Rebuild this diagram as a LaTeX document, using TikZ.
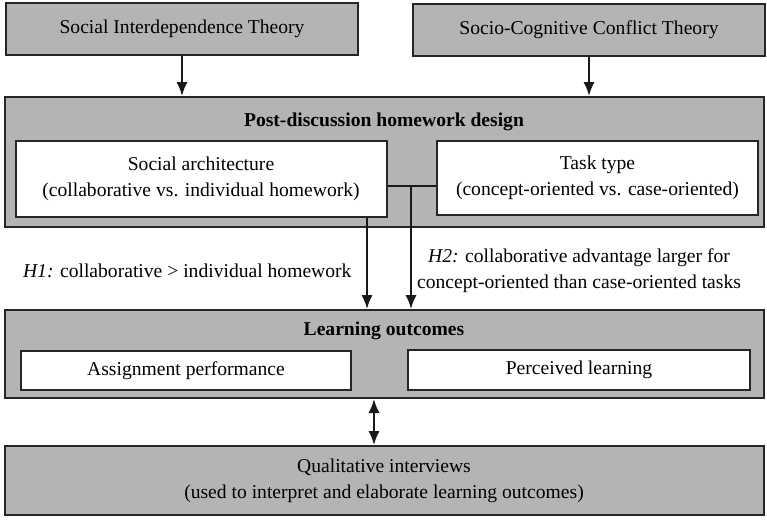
\documentclass[tikz,border=0pt]{standalone}
\usepackage{fontspec}
\setmainfont{Liberation Serif}
\usetikzlibrary{arrows.meta}
\newcommand{\fsz}{\fontsize{9.8}{13}\selectfont}

\begin{document}
\begin{tikzpicture}[
  x=0.5pt, y=-0.5pt,
  graybox/.style={draw=black!85, line width=1pt, fill=boxFill, inner sep=0pt, align=center, font=\fsz},
  whitebox/.style={draw=black!85, line width=1pt, fill=white, inner sep=0pt, align=center, font=\fsz},
  ttllbl/.style={font=\fsz\bfseries, align=center},
  hyplbl/.style={font=\fsz, align=center},
  link/.style={line width=1pt, draw=black!90},
  arr/.style={link, -{Latex[length=7pt, width=5.6pt]}},
  arrboth/.style={link, {Latex[length=7pt, width=5.6pt]}-{Latex[length=7pt, width=5.6pt]}},
]

%% ── Colours ──────────────────────────────────────────────────────────────────
\definecolor{boxFill}{RGB}{180,180,180}

\useasboundingbox (0,0) rectangle (767,520);

%% ── Theories (top row) ───────────────────────────────────────────────────────
\node[graybox, minimum width=176pt, minimum height=26pt] (theoryA) at (182,29) {Social Interdependence Theory};
\node[graybox, minimum width=176pt, minimum height=26pt] (theoryB) at (589,29.5) {Socio-Cognitive Conflict Theory};

%% ── Post-discussion homework design ──────────────────────────────────────────
\node[graybox, minimum width=379.5pt, minimum height=65pt] (design) at (384,162) {};
\node[ttllbl] (desTitle) at (384,122) {Post-discussion homework design};
\node[whitebox, minimum width=185.5pt, minimum height=38pt] (social) at (201,178.5)
  {Social architecture\\(collaborative vs. individual homework)};
\node[whitebox, minimum width=160.5pt, minimum height=37pt] (task) at (597.5,178)
  {Task type\\(concept-oriented vs. case-oriented)};

%% ── Learning outcomes ────────────────────────────────────────────────────────
\node[graybox, minimum width=379.5pt, minimum height=44pt] (outcomes) at (384,354) {};
\node[ttllbl] (outTitle) at (384,331) {Learning outcomes};
\node[whitebox, minimum width=165pt, minimum height=19.5pt] (assign) at (186,370.5) {Assignment performance};
\node[whitebox, minimum width=171pt, minimum height=20pt] (perceived) at (579,370) {Perceived learning};

%% ── Qualitative interviews ───────────────────────────────────────────────────
\node[graybox, minimum width=379.5pt, minimum height=34.5pt] (interviews) at (384,480.5)
  {Qualitative interviews\\(used to interpret and elaborate learning outcomes)};

%% ── Hypothesis labels ────────────────────────────────────────────────────────
\node[hyplbl, anchor=west] (hypA) at (16,271) {\textit{H1:} collaborative > individual homework};
\node[hyplbl] (hypB) at (579,271)
  {\textit{H2:} collaborative advantage larger for\\concept-oriented than case-oriented tasks};

%% ── Connectors ───────────────────────────────────────────────────────────────
\draw[arr] (theoryA.south) -- (theoryA.south |- design.north);
\draw[arr] (theoryB.south) -- (theoryB.south |- design.north);

\coordinate (hub) at (411,186);
\coordinate (hypAx) at (367,0);
\coordinate (linkx) at (374,0);
\draw[link] (hub -| social.east) -- (hub -| task.west);
\draw[arr] (hub) -- (hub |- outcomes.north);
\draw[arr] (hypAx |- social.south) -- (hypAx |- outcomes.north);
\draw[arrboth] (linkx |- outcomes.south) -- (linkx |- interviews.north);

\end{tikzpicture}
\end{document}
